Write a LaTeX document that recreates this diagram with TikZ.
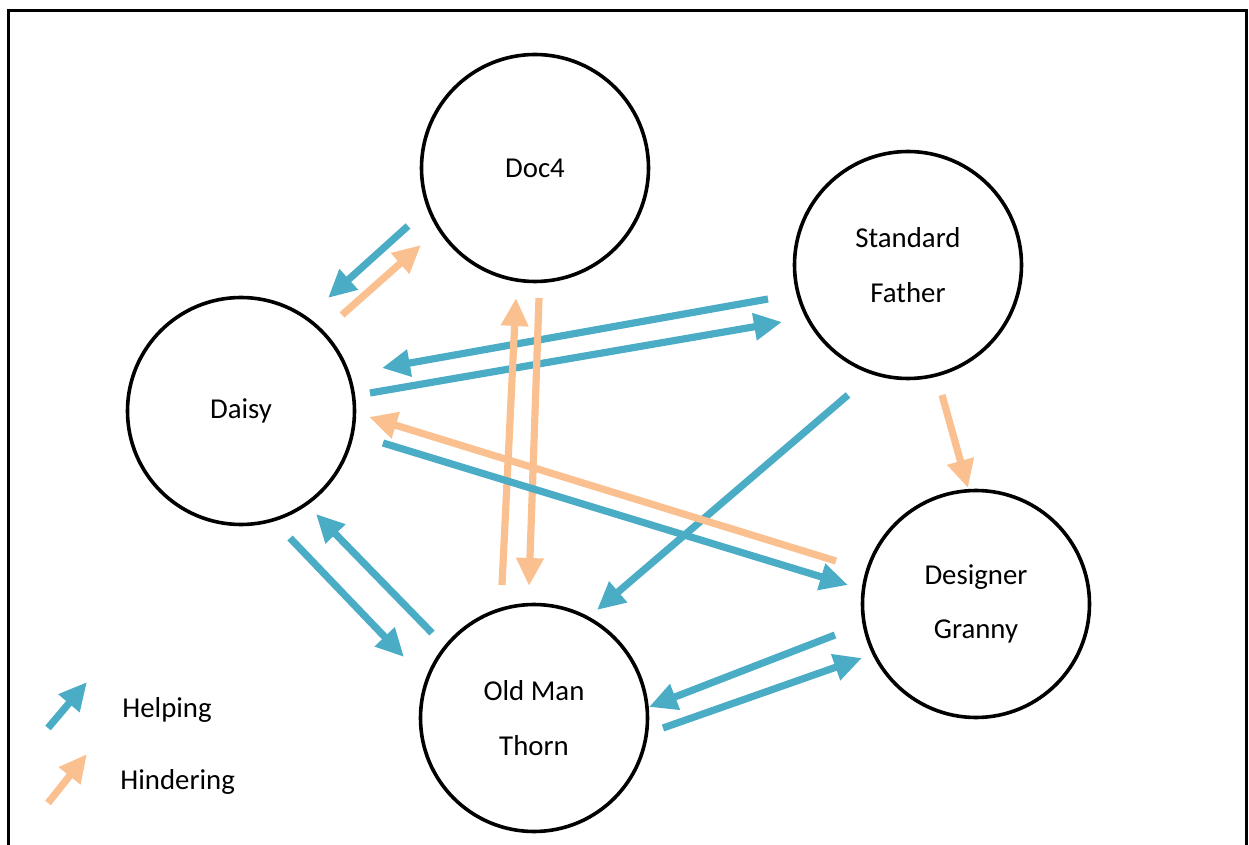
\documentclass[tikz,border=0pt]{standalone}
\usepackage{fontspec}
\setmainfont{Carlito}
\usetikzlibrary{positioning,calc,arrows.meta}
\definecolor{helpblue}{HTML}{4BACC6}
\definecolor{hindorange}{HTML}{FAC090}
\tikzset{person/.style={circle, draw, line width=1.8pt, minimum size=113.5pt, inner sep=0pt, align=center, font=\fontsize{14.4}{27.3}\selectfont}}
\tikzset{arr/.style={draw, line width=3.6pt, -{Triangle[length=14pt,width=13pt]}}}
\tikzset{helps/.style={arr, helpblue}}
\tikzset{hinders/.style={arr, hindorange}}
\tikzset{legtext/.style={anchor=west, inner sep=0pt, font=\fontsize{14.4}{17}\selectfont}}
\begin{document}
\begin{tikzpicture}[x=0.5pt, y=-0.5pt]
			\useasboundingbox (0,0) rectangle (1249,845);
			\draw[line width=1.5pt] (8.5,845) -- (8.5,10.5) -- (1246,10.5) -- (1246,845);

			\node[person] (doc) at (535,168) {Doc4};
			\node[person] (father) at (908,265) {Standard\\Father};
			\node[person] (daisy) at (241,411) {Daisy};
			\node[person] (granny) at (976,604) {Designer\\Granny};
			\node[person] (thorn) at (534,718) {Old Man\\Thorn};

			% arrow ends
			\coordinate (docA) at (408,226);   \coordinate (daisyA) at (328,298);
			\coordinate (daisyB) at (342,315); \coordinate (docB) at (421,245);
			\coordinate (fatherA) at (768,299); \coordinate (daisyC) at (382,368);
			\coordinate (daisyD) at (370,393); \coordinate (fatherB) at (782,322);
			\coordinate (thornA) at (502,585); \coordinate (docC) at (516,298);
			\coordinate (docD) at (539,298);   \coordinate (thornB) at (529,586);
			\coordinate (fatherC) at (848,395); \coordinate (thornC) at (597,610);
			\coordinate (fatherD) at (942,395); \coordinate (grannyA) at (968,488);
			\coordinate (grannyB) at (836,561); \coordinate (daisyE) at (369,417);
			\coordinate (daisyF) at (383,443); \coordinate (grannyC) at (848,585);
			\coordinate (daisyG) at (290,538); \coordinate (thornD) at (404,657);
			\coordinate (thornE) at (432,633); \coordinate (daisyH) at (316,514);
			\coordinate (grannyD) at (835,635); \coordinate (thornF) at (649,707);
			\coordinate (thornG) at (663,728); \coordinate (grannyE) at (862,658);

			\draw[helps] (docA) -- (daisyA);
			\draw[hinders] (daisyB) -- (docB);
			\draw[helps] (fatherA) -- (daisyC);
			\draw[helps] (daisyD) -- (fatherB);
			\draw[hinders] (thornA) -- (docC);
			\draw[hinders] (docD) -- (thornB);
			\draw[helps] (fatherC) -- (thornC);
			\draw[hinders] (fatherD) -- (grannyA);
			\draw[hinders] (grannyB) -- (daisyE);
			\draw[helps] (daisyF) -- (grannyC);
			\draw[helps] (daisyG) -- (thornD);
			\draw[helps] (thornE) -- (daisyH);
			\draw[helps] (grannyD) -- (thornF);
			\draw[helps] (thornG) -- (grannyE);

			% legend
			\coordinate (keyhelpA) at (48,728);  \coordinate (keyhelpB) at (87,682);
			\coordinate (keyhindA) at (48,803);  \coordinate (keyhindB) at (87,754);
			\draw[helps] (keyhelpA) -- (keyhelpB);
			\draw[hinders] (keyhindA) -- (keyhindB);
			\node[legtext] (helping) at (122,710) {Helping};
			\node[legtext] (hindering) at (120,782) {Hindering};
		\end{tikzpicture}
\end{document}
